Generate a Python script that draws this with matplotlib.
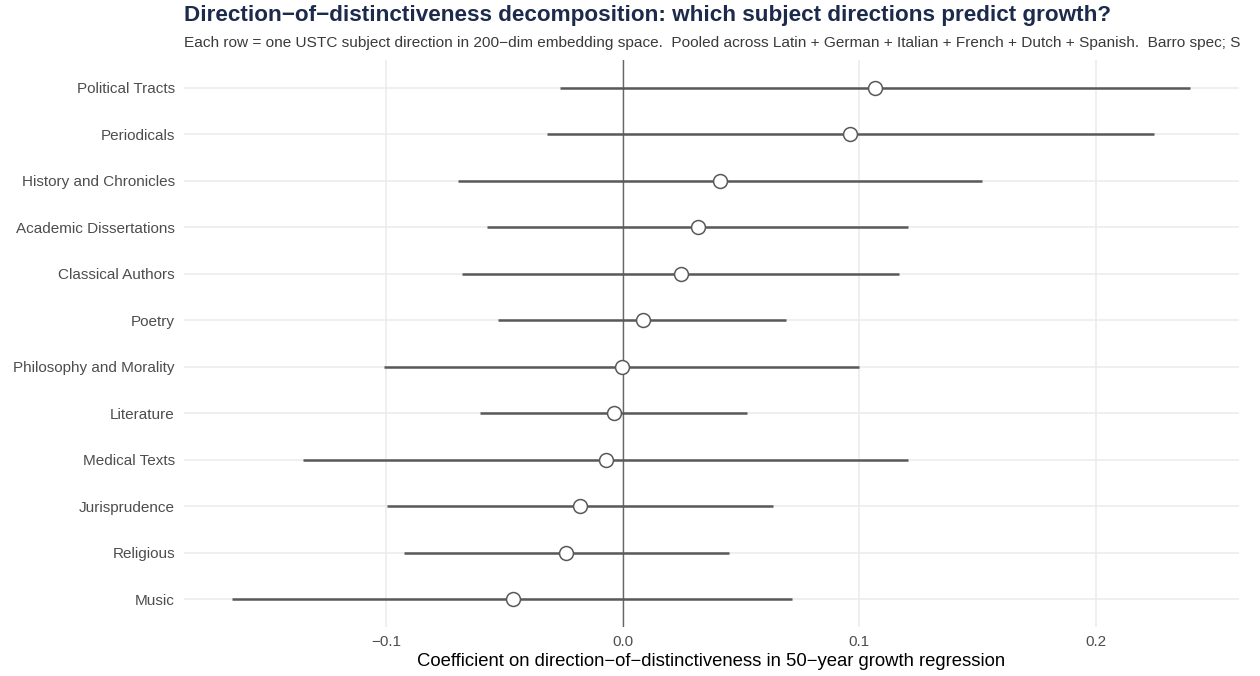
import matplotlib
matplotlib.use('Agg')
import matplotlib.pyplot as plt
import numpy as np

plt.rcParams['font.family'] = ['Liberation Sans', 'DejaVu Sans']

# Subject directions, top to bottom, with estimate and 95% CI
subjects = ["Political Tracts", "Periodicals", "History and Chronicles",
            "Academic Dissertations", "Classical Authors", "Poetry",
            "Philosophy and Morality", "Literature", "Medical Texts",
            "Jurisprudence", "Religious", "Music"]
estimate = [0.1068, 0.0962, 0.0409, 0.0316, 0.0245, 0.0084,
            -0.0004, -0.0038, -0.0072, -0.0181, -0.0241, -0.0464]
ci_low = [-0.0266, -0.0321, -0.0698, -0.0574, -0.0678, -0.0527,
          -0.1008, -0.0603, -0.1350, -0.0995, -0.0926, -0.1650]
ci_high = [0.2397, 0.2245, 0.1519, 0.1207, 0.1169, 0.0692,
           0.1000, 0.0523, 0.1207, 0.0633, 0.0447, 0.0717]
xticks = [-0.1, 0.0, 0.1, 0.2]

title = "Direction\u2212of\u2212distinctiveness decomposition: which subject directions predict growth?"
subtitle = ("Each row = one USTC subject direction in 200\u2212dim embedding space.  "
            "Pooled across Latin + German + Italian + French + Dutch + Spanish.  Barro spec; S")
xlabel = "Coefficient on direction\u2212of\u2212distinctiveness in 50\u2212year growth regression"

W, H = 1260, 676
fig = plt.figure(figsize=(W / 100, H / 100), dpi=100)
ax = fig.add_axes([184 / W, 1 - 627 / H, (1239 - 184) / W, 567 / H])

y = np.arange(len(subjects))

# gridlines like theme_minimal
for xt in xticks:
    ax.axvline(xt, color='#ebebeb', lw=1.1, zorder=0)
for yy in y:
    ax.axhline(yy, color='#ebebeb', lw=1.1, zorder=0)

ax.axvline(0, color='#666666', lw=1.0, zorder=1)
ax.hlines(y, ci_low, ci_high, color='#595959', lw=1.8, zorder=2)
ax.plot(estimate, y, 'o', ms=10, mfc='white', mec='#595959', mew=1.1, zorder=3)

ax.set_xlim(-0.1855, 0.2605)
ax.set_ylim(len(subjects) - 0.4, -0.6)
ax.set_xticks(xticks)
ax.set_xticklabels([f"{t:.1f}".replace('-', '\u2212') for t in xticks])
ax.set_yticks(y)
ax.set_yticklabels(subjects)
ax.tick_params(length=0, labelsize=11, labelcolor='#4d4d4d')
ax.tick_params(axis='x', pad=5.7)
ax.tick_params(axis='y', pad=6.5)
for s in ax.spines.values():
    s.set_visible(False)

fig.text((184 + 1239) / 2 / W, 1 - 666 / H, xlabel, fontsize=13.3, color='black',
         ha='center', va='baseline')
fig.text(184 / W, 1 - 21 / H, title, fontsize=16.2, fontweight='bold',
         color='#1c2a4c', ha='left', va='baseline')
fig.text(184 / W, 1 - 47 / H, subtitle, fontsize=11.1, color='#3a3a3a',
         ha='left', va='baseline')

fig.savefig('out.png', dpi=100)
